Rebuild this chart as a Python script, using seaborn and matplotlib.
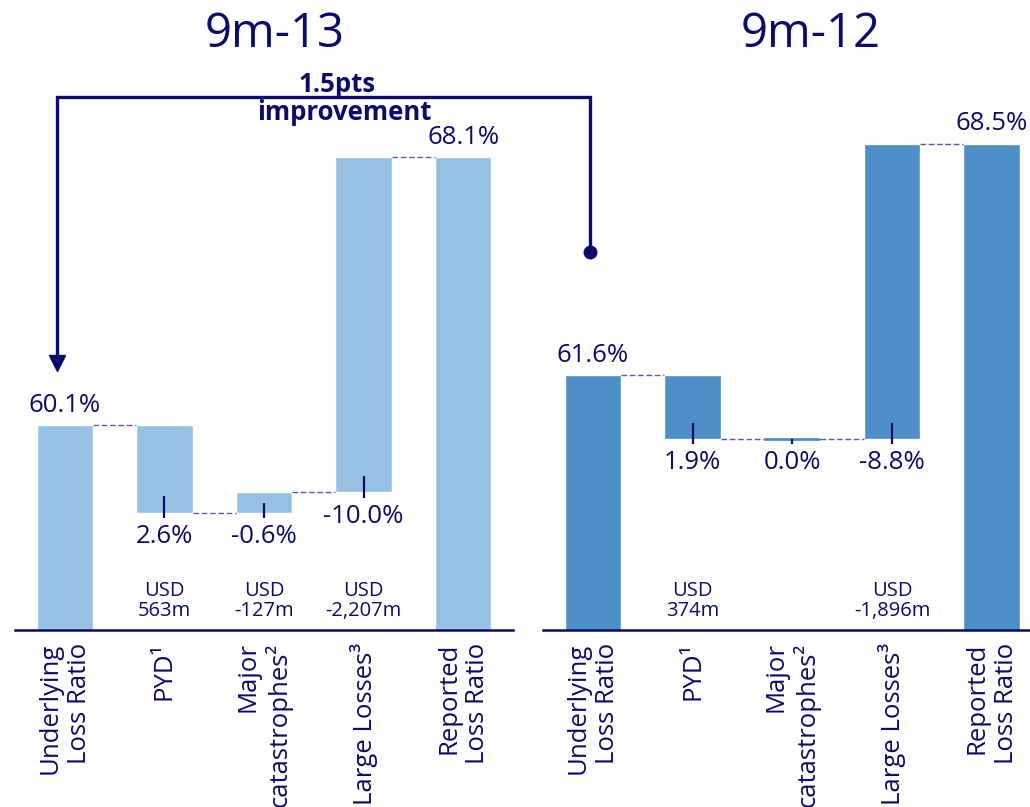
import matplotlib
matplotlib.use("Agg")
import matplotlib.pyplot as plt
from matplotlib.lines import Line2D
import seaborn as sns
import pandas as pd

# ---------------- data ----------------
categories = ["Underlying\nLoss Ratio", "PYD¹", "Major\ncatastrophes²", "Large Losses³", "Reported\nLoss Ratio"]
titles = ["9m-13", "9m-12"]

underlying_13 = 60.1
deltas_13 = [2.6, -0.6, -10.0]
reported_13 = 68.1
usd_13 = ["USD\n563m", "USD\n-127m", "USD\n-2,207m"]

underlying_12 = 61.6
deltas_12 = [1.9, 0.0, -8.8]
reported_12 = 68.5
usd_12 = ["USD\n374m", "", "USD\n-1,896m"]

improvement_text = "1.5pts\nimprovement"

# ---------------- style ----------------
sns.set_theme(style="white")
plt.rcParams["font.family"] = ["Open Sans", "DejaVu Sans"]
NAVY = "#0B0B6B"
DASH = "#5B5BA8"
COL_13 = "#97C1E3"
COL_12 = "#4F8FC7"

W, H = 1030, 807
fig = plt.figure(figsize=(W / 100, H / 100), dpi=100)

YMIN = 54.0
YMAX = 54.0 + 600 / 33.55


def fx(px):
    return px / W


def fy(py):
    return 1 - py / H


def waterfall(ax, underlying, deltas, reported, usd, color, xmax):
    levels = [underlying]
    for d in deltas:
        levels.append(levels[-1] - d)
    heights = [underlying] + [abs(d) for d in deltas] + [reported]
    df = pd.DataFrame({"cat": categories, "h": heights})
    sns.barplot(data=df, x="cat", y="h", ax=ax, color=color, saturation=1,
                width=0.565, order=categories)
    patches = ax.patches
    # float the delta bars
    for i, d in enumerate(deltas):
        p = patches[i + 1]
        lo = min(levels[i], levels[i + 1])
        p.set_y(lo)
        p.set_height(abs(d))
        if abs(d) == 0:
            p.set_linewidth(2)
            p.set_edgecolor(color)
    ax.set_ylim(YMIN, YMAX)
    ax.set_xlim(-0.5, xmax)
    bw = patches[0].get_width()
    # connectors
    conn = levels[:3] + [reported]
    for i in range(4):
        ax.plot([i + bw / 2, i + 1 - bw / 2], [conn[i]] * 2,
                color=DASH, lw=1, ls=(0, (4, 2)), zorder=1)
    # total labels
    ax.text(0, underlying + 0.22, f"{underlying:.1f}%", ha="center", va="bottom",
            fontsize=18.5, color=NAVY)
    ax.text(4, reported + 0.22, f"{reported:.1f}%", ha="center", va="bottom",
            fontsize=18.5, color=NAVY)
    # delta labels, ticks, USD text
    for i, d in enumerate(deltas):
        x = i + 1
        lo = min(levels[i], levels[i + 1])
        up = min(0.48, 0.5 * abs(d))
        ax.plot([x, x], [lo - 0.17, lo + up], color=NAVY, lw=1.6, zorder=3,
                solid_capstyle="butt")
        ax.text(x, lo - 0.33, f"{d:.1f}%", ha="center", va="top",
                fontsize=18.5, color=NAVY)
        if usd[i]:
            ax.text(x, YMIN + 0.28, usd[i], ha="center", va="bottom",
                    fontsize=14.5, color=NAVY, linespacing=1.0)
    # axes styling
    ax.set_xlabel("")
    ax.set_ylabel("")
    ax.set_yticks([])
    for s in ["left", "right", "top"]:
        ax.spines[s].set_visible(False)
    ax.spines["bottom"].set_color(NAVY)
    ax.spines["bottom"].set_linewidth(1.8)
    ax.tick_params(axis="x", length=0, pad=9, labelsize=18.5, labelcolor=NAVY)
    for lbl in ax.get_xticklabels():
        lbl.set_rotation(90)
        lbl.set_multialignment("right")
        lbl.set_ha("center")
        lbl.set_va("top")
    ax.patch.set_alpha(0)


ax1 = fig.add_axes([fx(15), fy(630), fx(498), 600 / H])
waterfall(ax1, underlying_13, deltas_13, reported_13, usd_13, COL_13, 4.5)

ax2 = fig.add_axes([fx(543), fy(630), fx(487), 600 / H])
waterfall(ax2, underlying_12, deltas_12, reported_12, usd_12, COL_12, -0.5 + 487 / 99.7)

# titles
fig.text(fx(275), fy(47), titles[0], ha="center", va="baseline", fontsize=34, color=NAVY)
fig.text(fx(811), fy(47), titles[1], ha="center", va="baseline", fontsize=34, color=NAVY)

# improvement bracket
bx = [fx(590), fx(590), fx(57), fx(57)]
by = [fy(252), fy(97), fy(97), fy(358)]
fig.add_artist(Line2D(bx, by, transform=fig.transFigure, color=NAVY, lw=2.4,
                      solid_joinstyle="miter", zorder=5))
fig.add_artist(Line2D([fx(590)], [fy(252)], transform=fig.transFigure, marker="o",
                      markersize=9, color=NAVY, ls="none"))
fig.add_artist(Line2D([fx(57)], [fy(363)], transform=fig.transFigure, marker="v",
                      markersize=11, color=NAVY, ls="none"))
lines = improvement_text.split("\n")
fig.text(fx(337), fy(92), lines[0], ha="center", va="baseline", fontsize=18.5,
         fontweight="bold", color=NAVY, zorder=1)
fig.text(fx(344), fy(120), lines[1], ha="center", va="baseline", fontsize=18.5,
         fontweight="bold", color=NAVY)

fig.savefig("out.png", dpi=100)
